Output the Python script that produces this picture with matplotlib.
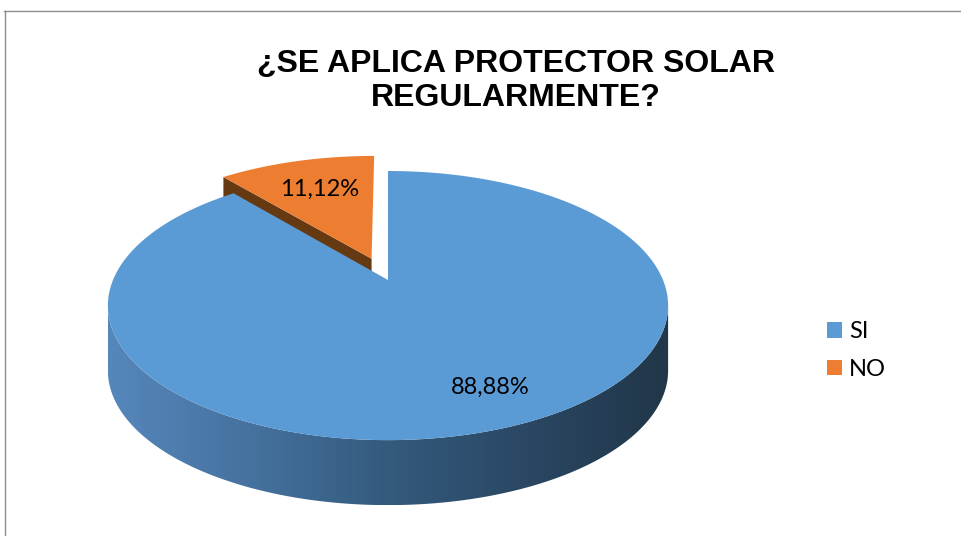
import numpy as np
import matplotlib
matplotlib.use('Agg')
import matplotlib.pyplot as plt
from matplotlib.patches import Polygon
from matplotlib.lines import Line2D
from matplotlib.path import Path
from matplotlib.transforms import Transform
from matplotlib.colors import LinearSegmentedColormap

# ---- data ----
categories = ['SI', 'NO']
values = [88.88, 11.12]
colors = ['#5B9BD5', '#ED7D31']
side_colors = ['#2f5373', '#653a12']
title = '¿SE APLICA PROTECTOR SOLAR\nREGULARMENTE?'

W, H = 962, 536
fig = plt.figure(figsize=(W / 100, H / 100), dpi=100)

# perspective projection of the unit pie disk onto pixel coordinates
CX, Y0, A, B, K = 388.0, 280.0, 275.0, 129.7, 0.19
DEPTH = 65.0  # side thickness, px
explode = [0, 0.18]
startangle = 90


def project(pts):
    pts = np.atleast_2d(np.asarray(pts, float))
    u, v = pts[:, 0], pts[:, 1]
    s = 1 + K * v
    return np.column_stack([CX + A * u / s, Y0 - B * v / s])


class Persp(Transform):
    input_dims = output_dims = 2
    is_separable = False
    has_inverse = False

    def transform_non_affine(self, values):
        return project(values)

    def transform_path_non_affine(self, path):
        pts = []
        for seg, code in path.iter_bezier():
            if code == Path.MOVETO:
                pts.append(seg.control_points[0])
                continue
            n = 2 if seg.degree == 1 else 24
            pts.extend(seg(np.linspace(0, 1, n)[1:]))
        return Path(project(np.array(pts)), closed=True)


ax = fig.add_axes([0, 0, 1, 1])
label_font = dict(family=['Lato', 'DejaVu Sans'], fontsize=17, color='black')
wedges, texts, autotexts = ax.pie(
    values, colors=colors, startangle=startangle, counterclock=False,
    explode=explode, radius=1,
    autopct=lambda p: f'{p:.2f}%'.replace('.', ','), pctdistance=0.7,
    wedgeprops=dict(linewidth=0), textprops=label_font)

ax.set_aspect('auto')
ax.set_xlim(0, W)
ax.set_ylim(H, 0)
ax.axis('off')

persp = Persp()
for w in wedges:
    w.set_transform(persp + ax.transData)

# wedge angular ranges (clockwise from startangle)
total = sum(values)
bounds = []
cur = startangle
for v in values:
    nxt = cur - 360 * v / total
    bounds.append((nxt, cur))
    cur = nxt

wall_cmap = LinearSegmentedColormap.from_list(
    'wall', ['#5687bc', '#45729f', '#345a7d', '#2a4763', '#213648'])

for i, (w, (lo, hi)) in enumerate(zip(wedges, bounds)):
    c = np.array(w.center)
    zside = 3 if i == 0 else 1
    # outer curved wall (front part, between silhouette points)
    t = np.linspace(lo, hi, 1440)
    front = np.sin(np.radians(t)) < -K
    if front.any():
        tt = np.radians(t[front])
        top = project(np.column_stack([c[0] + np.cos(tt), c[1] + np.sin(tt)]))
        bot = top + [0, DEPTH]
        pts = np.vstack([top, bot[::-1]])
        poly = Polygon(pts, closed=True, facecolor='none', edgecolor='none')
        ax.add_patch(poly)
        grad = np.linspace(0, 1, 256).reshape(1, -1)
        im = ax.imshow(grad, cmap=wall_cmap, aspect='auto',
                       extent=[pts[:, 0].min(), pts[:, 0].max(),
                               pts[:, 1].max(), pts[:, 1].min()],
                       zorder=zside, interpolation='bilinear')
        im.set_clip_path(poly)
    # straight cut faces turned toward the viewer
    mid = np.radians((lo + hi) / 2)
    for ang in (lo, hi):
        r = np.radians(ang)
        normal = np.array([np.sin(r), -np.cos(r)])
        if np.dot(normal, [np.cos(mid), np.sin(mid)]) > 0:
            normal = -normal
        if normal[1] < -1e-6:
            p = project([c, c + [np.cos(r), np.sin(r)]])
            face = Polygon(np.vstack([p, p[::-1] + [0, DEPTH]]), closed=True,
                           facecolor=side_colors[i], edgecolor='none', zorder=zside)
            ax.add_patch(face)

wedges[0].set_zorder(4)
wedges[1].set_zorder(2)

ax.set_xlim(0, W)
ax.set_ylim(H, 0)

# label positions (pixel coordinates)
autotexts[0].set_position((490, 387))
autotexts[1].set_position((320, 189))
for t_ in autotexts:
    t_.set_zorder(6)
    t_.set_ha('center')
    t_.set_va('center')

# legend
ax.legend(wedges, categories, loc='upper left',
          bbox_to_anchor=(806 / W, 1 - 300 / H), bbox_transform=fig.transFigure,
          frameon=False, handlelength=0.62, handleheight=0.62,
          handletextpad=0.3, labelspacing=0.7,
          prop=dict(family=['Lato', 'DejaVu Sans'], size=17))

# title
fig.text(516 / W, 1 - 49 / H, title, ha='center', va='top', fontsize=23,
         fontweight='bold', family=['Liberation Sans', 'DejaVu Sans'],
         linespacing=1.17)

# chart border (top and left edges visible)
fig.add_artist(Line2D([4 / W, 1], [1 - 10.5 / H, 1 - 10.5 / H],
                      transform=fig.transFigure, color='#8c8c8c', lw=1))
fig.add_artist(Line2D([4.5 / W, 4.5 / W], [0, 1 - 10.5 / H],
                      transform=fig.transFigure, color='#8c8c8c', lw=1))

fig.savefig('out.png', dpi=100, facecolor='white')
